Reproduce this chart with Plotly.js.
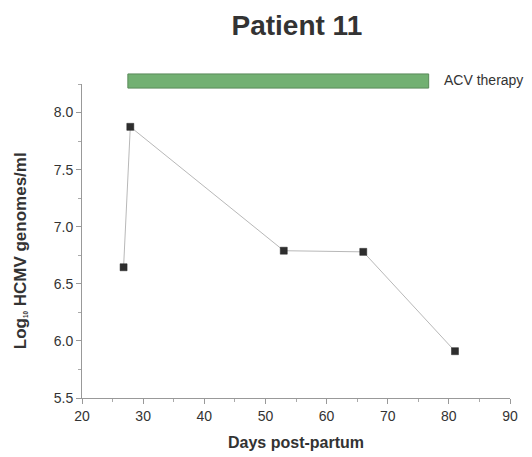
<!DOCTYPE html>
<html>
<head>
<meta charset="utf-8">
<script src="https://cdn.plot.ly/plotly-3.0.1.min.js"></script>
<style>html,body{margin:0;padding:0;background:#fff;}#chart{width:532px;height:457px;}</style>
</head>
<body>
<div id="chart"></div>
<script>
var days = [26.8, 27.9, 53, 66, 81];
var logLoad = [6.645, 7.875, 6.79, 6.78, 5.91];
var therapyStart = 27.5;
var therapyEnd = 76.7;
var therapyLabel = "ACV therapy";
var xTicks = [20, 30, 40, 50, 60, 70, 80, 90];
var yTicks = [5.5, 6.0, 6.5, 7.0, 7.5, 8.0];

var font = "Liberation Sans, Arial, sans-serif";

var trace = {
  x: days, y: logLoad, type: "scatter", mode: "lines+markers",
  line: {color: "#b8b8b8", width: 1},
  marker: {symbol: "square", size: 7, color: "#2e2e2e", line: {color: "#222", width: 0.5}},
  hoverinfo: "x+y", showlegend: false, cliponaxis: false
};

var layout = {
  width: 532, height: 457,
  margin: {l: 82, r: 22, t: 84, b: 59},
  paper_bgcolor: "#fff", plot_bgcolor: "#fff",
  font: {family: font, color: "#333", size: 13},
  title: {text: "<b>Patient 11</b>", font: {family: font, size: 28, color: "#333"}, x: 0.558, xanchor: "center", y: 0.945, yanchor: "middle"},
  xaxis: {
    range: [20, 90], tickvals: xTicks, ticks: "outside", ticklen: 5, tickcolor: "#999",
    showline: true, linecolor: "#999", linewidth: 1, showgrid: false, zeroline: false,
    tickfont: {size: 14, color: "#333"},
    minor: {dtick: 5, tick0: 20, ticks: "outside", ticklen: 3, tickcolor: "#aaa", showgrid: false},
    title: {text: "<b>Days post-partum</b>", font: {size: 16, color: "#333"}, standoff: 14}
  },
  yaxis: {
    range: [5.5, 8.25], tickvals: yTicks, tickformat: ".1f", ticks: "outside", ticklen: 5, tickcolor: "#999",
    showline: true, linecolor: "#999", linewidth: 1, showgrid: false, zeroline: false,
    tickfont: {size: 14, color: "#333"},
    minor: {dtick: 0.25, tick0: 5.5, ticks: "outside", ticklen: 3, tickcolor: "#aaa", showgrid: false}
  },
  shapes: [{
    type: "rect", xref: "x", yref: "paper",
    x0: therapyStart, x1: therapyEnd, y0: 0.987, y1: 1.032,
    fillcolor: "#72b072", line: {color: "#5a8a5a", width: 1}
  }],
  annotations: [{
    xref: "paper", yref: "paper", x: 0.842, y: 1.012, xanchor: "left", yanchor: "middle",
    text: therapyLabel, showarrow: false, font: {size: 14, color: "#333", family: font}
  }, {
    xref: "paper", yref: "paper", x: -0.143, y: 0.47, xanchor: "center", yanchor: "middle",
    textangle: -90, showarrow: false,
    text: "<b>Log<span style='font-size:9px'><sub>10</sub></span> HCMV genomes/ml</b>",
    font: {size: 17, color: "#333", family: font}
  }]
};

Plotly.newPlot("chart", [trace], layout, {displayModeBar: false, staticPlot: true});
</script>
</body>
</html>
